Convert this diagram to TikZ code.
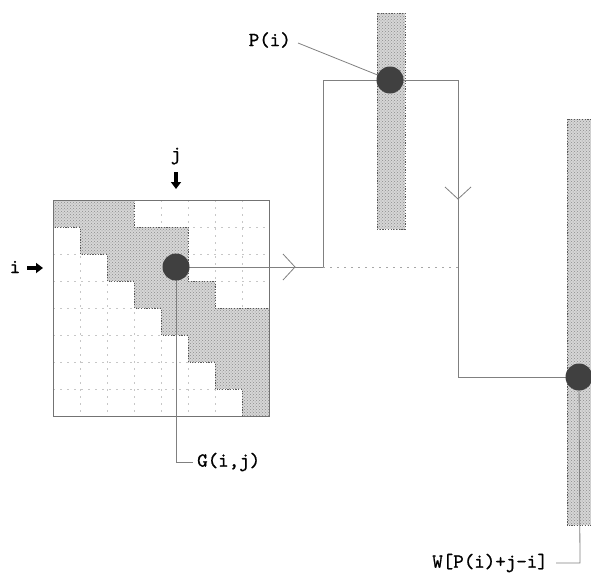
\documentclass[tikz,border=0pt]{standalone}
\usepackage{fontspec}
\newfontfamily\lblfont[FakeBold=0.9]{lmmono10-regular.otf}
\usetikzlibrary{arrows.meta,patterns}
\tikzset{
  conn/.style={draw=black!50, line width=0.8pt},
  gridl/.style={draw=black!22, line width=0.6pt, dash pattern=on 2pt off 5pt},
  shadefill/.style={fill=black!16},
  shadetex/.style={pattern=crosshatch dots, pattern color=black!45},
  shadeedge/.style={draw=black!65, line width=0.7pt, dash pattern=on 1.2pt off 1.5pt},
  dot/.style={circle, fill=black!75, inner sep=0pt, minimum size=27pt},
  lbl/.style={font=\lblfont\fontsize{20}{22}\selectfont, inner sep=0pt},
  fat/.style={line width=4pt, -{Triangle[length=7pt,width=10pt]}},
  chev/.style={draw=black!50, line width=0.8pt}
}
\begin{document}
\begin{tikzpicture}[x=1pt,y=-1pt]
\useasboundingbox (0,0) rectangle (591,573);
\begin{scope}
\clip (0,0) rectangle (591,573);
% matrix grid
\foreach \k in {1,...,7}{
  \draw[gridl] ({53+27*\k},200) -- ({53+27*\k},416);
  \draw[gridl] (53,{200+27*\k}) -- (269,{200+27*\k});
}
% shaded band
\def\band{(53,200) -- (134,200) -- (134,227) -- (188,227) -- (188,281) -- (215,281)
  -- (215,308) -- (269,308) -- (269,416) -- (242,416) -- (242,389) -- (215,389)
  -- (215,362) -- (188,362) -- (188,335) -- (161,335) -- (161,308) -- (134,308)
  -- (134,281) -- (107,281) -- (107,254) -- (80,254) -- (80,227) -- (53,227) -- cycle}
\path[shadefill] \band;
\path[shadetex] \band;
\path[shadeedge] \band;
\draw[draw=black!55, line width=0.8pt] (53,200) rectangle (269,416);
% columns
\foreach \r in {{(377,13) rectangle (405,229)},{(567,119) rectangle (597,525)}}{
  \path[shadefill] \r;
  \path[shadetex] \r;
  \path[shadeedge] \r;
}
% nodes
\coordinate (gc) at (176,267);
\coordinate (pc) at (390,80);
\coordinate (wc) at (579,377);
\coordinate (a1) at (323,267);
\coordinate (a2) at (323,80);
\coordinate (a3) at (458,80);
\coordinate (a4) at (458,377);
\coordinate (a5) at (458,267);
\coordinate (gb) at (176,462);
\coordinate (gr) at (193,462);
\coordinate (wb) at (580,563);
\coordinate (wl) at (556,563);
% connectors
\draw[conn] (gc) -- (a1) -- (a2) -- (a3) -- (a4) -- (wc);
\draw[draw=black!35, line width=0.7pt, dash pattern=on 2pt off 5pt] (a1) -- (a5);
\draw[chev] (283,254) -- (295,267) -- (283,280);
\draw[chev] (445,187) -- (458,199) -- (471,187);
\draw[conn] (gc) -- (gb) -- (gr);
\draw[conn] (wc) -- (wb) -- (wl);
% labels
\node[lbl, anchor=west] (glab) at (197,462) {G(i,j)};
\node[lbl, anchor=east] (wlab) at (548,563) {W[P(i)+j-i]};
\node[lbl, anchor=east] (plab) at (291,40) {P(i)};
\draw[conn] (298,43) -- (pc);
% dots
\node[dot] (g) at (gc) {};
\node[dot] (p) at (pc) {};
\node[dot] (w) at (wc) {};
% i and j
\node[lbl] (ilab) at (15,267) {i};
\draw[fat] (27,268) -- (43,268);
\node[lbl] (jlab) at (176,156) {j};
\draw[fat] (176,172) -- (176,189);
\end{scope}
\end{tikzpicture}
\end{document}
